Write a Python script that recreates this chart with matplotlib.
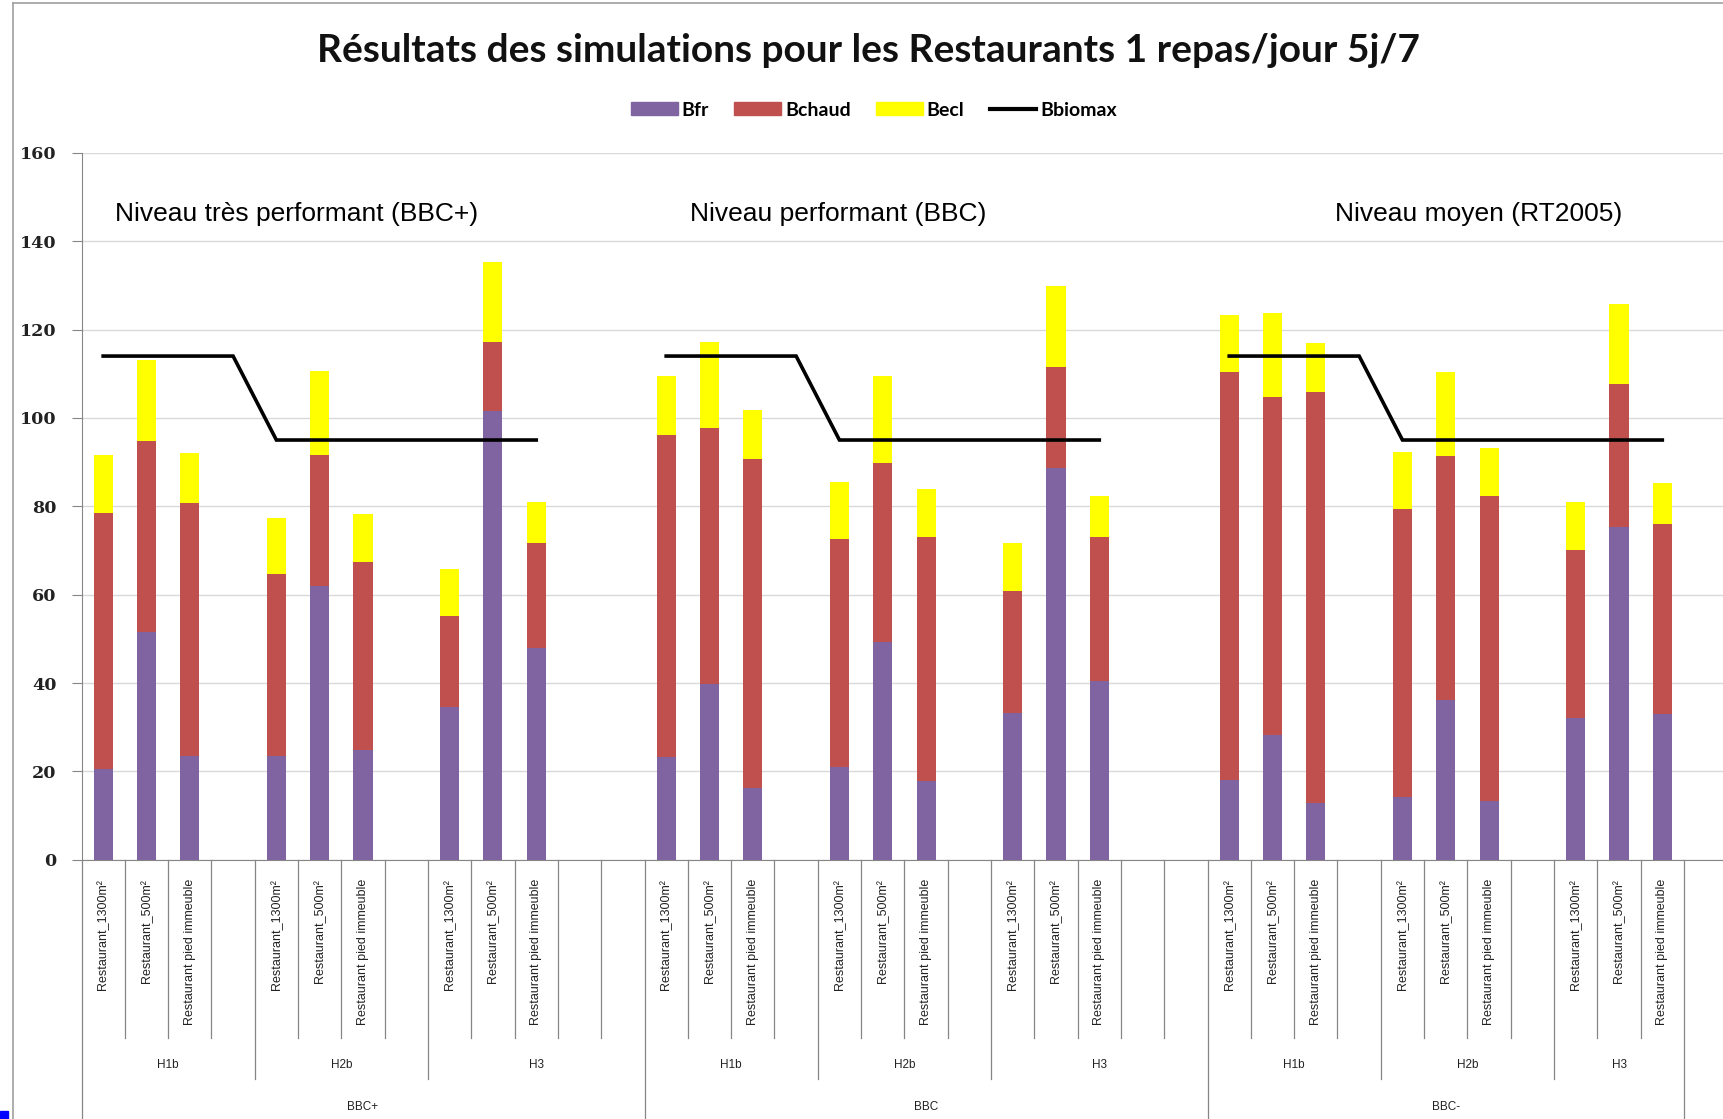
import numpy as np
import matplotlib
matplotlib.use("Agg")
import matplotlib.pyplot as plt
import matplotlib.transforms as mtransforms
from matplotlib.lines import Line2D
from matplotlib.patches import Patch, Rectangle

# categories
groups = ["BBC+", "BBC", "BBC-"]
zones = ["H1b", "H2b", "H3"]
buildings = ["Restaurant_1300m²", "Restaurant_500m²", "Restaurant pied immeuble"]
niveaux = ["Niveau très performant (BBC+)", "Niveau performant (BBC)", "Niveau moyen (RT2005)"]
niveau_x = [0.77, 14.06, 28.94]

# series values, ordered group -> zone -> building (27 bars)
bfr = [20.5, 51.6, 23.6, 23.6, 61.9, 24.8, 34.6, 101.6, 48.0,
       23.2, 39.7, 16.3, 21.0, 49.2, 17.8, 33.3, 88.7, 40.5,
       18.0, 28.2, 12.8, 14.3, 36.2, 13.2, 32.2, 75.4, 32.9]
bchaud = [58.0, 43.2, 57.1, 41.0, 29.7, 42.7, 20.5, 15.5, 23.6,
          73.0, 58.1, 74.3, 51.7, 40.7, 55.2, 27.6, 22.8, 32.5,
          92.3, 76.5, 93.1, 65.2, 55.2, 69.2, 37.8, 32.2, 43.2]
becl = [13.0, 18.4, 11.3, 12.8, 19.1, 10.7, 10.8, 18.2, 9.3,
        13.2, 19.3, 11.1, 12.7, 19.5, 11.0, 10.8, 18.4, 9.3,
        13.0, 19.1, 11.1, 12.7, 18.9, 10.7, 10.9, 18.1, 9.1]
bbiomax_zone = [114, 95, 95]

# number of category slots per zone (3 bars + blank rows)
zone_slots = [[4, 4, 5], [4, 4, 5], [4, 4, 3]]

C_FR = "#8064A2"
C_CH = "#C0504D"
C_EC = "#FFFF00"
GREY = "#868686"

# build slot positions
x_bar = []
bio_lines = []
zone_edges = []
group_edges = [0]
pos = 0
for g, slots in enumerate(zone_slots):
    lx, ly = [], []
    for z, n in enumerate(slots):
        for k in range(3):
            x_bar.append(pos + k + 0.5)
        m = n if z < 2 else 3
        for k in range(m):
            lx.append(pos + k + 0.5)
            ly.append(bbiomax_zone[z])
        pos += n
        zone_edges.append(pos)
    group_edges.append(pos)
    bio_lines.append((lx, ly))
n_slots = pos
x_bar = np.array(x_bar)
bfr = np.array(bfr)
bchaud = np.array(bchaud)
becl = np.array(becl)

W, H = 1724, 1119
fig = plt.figure(figsize=(W / 100, H / 100), dpi=100)
fig.patch.set_facecolor("white")

ax_left, ax_bot, ax_top = 81.5, 859.8, 152.8
slot_px = 43.31
ax = fig.add_axes([ax_left / W, 1 - ax_bot / H, 1 - ax_left / W, (ax_bot - ax_top) / H])

bw = 0.44
ax.bar(x_bar, bfr, width=bw, color=C_FR, zorder=2)
ax.bar(x_bar, bchaud, width=bw, bottom=bfr, color=C_CH, zorder=2)
ax.bar(x_bar, becl, width=bw, bottom=bfr + bchaud, color=C_EC, zorder=2)
for lx, ly in bio_lines:
    ax.plot(lx, ly, color="black", lw=2.6, zorder=3, solid_joinstyle="miter")

ax.set_xlim(0, (W - ax_left) / slot_px)
ax.set_ylim(0, 160)
ax.set_yticks(range(0, 161, 20))
ax.yaxis.grid(True, color="#D9D9D9", lw=1)
ax.set_axisbelow(True)
ax.set_xticks([])
for s in ["top", "right"]:
    ax.spines[s].set_visible(False)
ax.spines["left"].set_color(GREY)
ax.spines["bottom"].set_color(GREY)
ax.tick_params(axis="y", direction="out", length=7, color=GREY, pad=11)
for lab in ax.get_yticklabels():
    lab.set_fontfamily("DejaVu Serif")
    lab.set_fontweight("bold")
    lab.set_fontsize(12.6)
    lab.set_color("#222222")

for txt, xn in zip(niveaux, niveau_x):
    ax.text(xn, 146.1, txt, fontsize=19, family="Liberation Sans", ha="left", va="center", color="black")

# multi-level category axis
ah = ax_bot - ax_top
def ay(px):
    return -(px - ax_bot) / ah

trans = mtransforms.blended_transform_factory(ax.transData, ax.transAxes)
for i, x in enumerate(x_bar):
    ax.text(x, ay(879), buildings[i % 3], rotation=90, ha="center", va="top",
            fontsize=9, family="Liberation Sans", color="#222222", transform=trans)

for b in range(1, n_slots):
    if b in group_edges or b in zone_edges:
        continue
    ax.plot([b, b], [0, ay(1037.5)], color=GREY, lw=0.9, transform=trans, clip_on=False)
for b in zone_edges:
    if b in group_edges:
        continue
    ax.plot([b, b], [0, ay(1079)], color=GREY, lw=0.9, transform=trans, clip_on=False)
for b in group_edges:
    ax.plot([b, b], [0, ay(1125)], color=GREY, lw=0.9, transform=trans, clip_on=False)

for g, slots in enumerate(zone_slots):
    p = group_edges[g]
    for z, n in enumerate(slots):
        ax.text(p + n / 2, ay(1064.8), zones[z], ha="center", va="center", fontsize=8.5,
                family="Liberation Sans", color="#222222", transform=trans)
        p += n
    ax.text((group_edges[g] + group_edges[g + 1]) / 2, ay(1107.5), groups[g], ha="center", va="center",
            fontsize=8.5, family="Liberation Sans", color="#222222", transform=trans)

# title and legend
fig.text(0.504, 1 - 50 / H, "Résultats des simulations pour les Restaurants 1 repas/jour 5j/7",
         ha="center", va="center", fontsize=28, fontweight="bold", family="Lato", color="#111111")

handles = [Patch(color=C_FR), Patch(color=C_CH), Patch(color=C_EC), Line2D([], [], color="black", lw=3)]
fig.legend(handles, ["Bfr", "Bchaud", "Becl", "Bbiomax"], loc="center", bbox_to_anchor=(0.507, 1 - 110 / H),
           ncol=4, frameon=False, handlelength=2.4, handleheight=0.65, handletextpad=0.2, columnspacing=1.3,
           prop={"family": "Lato", "weight": "bold", "size": 14})

# chart frame and little marks outside it
fig.add_artist(Line2D([13 / W, 13 / W], [0, 1 - 3 / H], color="#A0A0A0", lw=1.2))
fig.add_artist(Line2D([13 / W, 1], [1 - 3 / H, 1 - 3 / H], color="#A0A0A0", lw=1.2))
fig.add_artist(Rectangle((0, 0), 8 / W, 8 / H, color="#0000FF", transform=fig.transFigure))

fig.savefig("out.png", dpi=100, facecolor="white")
